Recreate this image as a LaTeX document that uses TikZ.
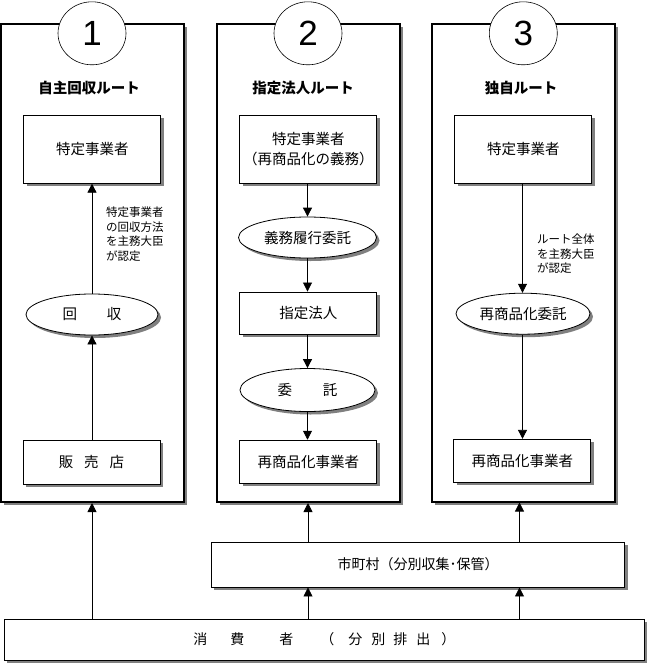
\documentclass[tikz,border=0pt]{standalone}
\usepackage{fontspec}
\setmainfont{Noto Sans CJK JP}
\newfontfamily\digitfont{Liberation Sans}
\usetikzlibrary{shapes.geometric,shadows,arrows.meta}
\begin{document}
\begin{tikzpicture}[x=1pt,y=-1pt,
  shd/.style={drop shadow={shadow xshift=3pt,shadow yshift=-3pt,fill=black!50,opacity=1}},
  panel/.style={draw,line width=2pt,fill=white,shd,inner sep=0pt,minimum width=183pt,minimum height=478pt},
  box/.style={draw,line width=0.9pt,fill=white,shd,inner sep=0pt,align=center,minimum width=137pt,font=\fontsize{14.5}{19.5}\selectfont},
  oval/.style={ellipse,draw,line width=0.8pt,fill=white,shd,inner sep=0pt,minimum height=41pt,font=\fontsize{14.5}{17}\selectfont},
  num/.style={ellipse,draw,line width=0.6pt,fill=white,inner sep=0pt,minimum width=68pt,minimum height=63pt,font=\digitfont\fontsize{35}{35}\selectfont},
  ttl/.style={font=\bfseries\fontsize{14.5}{17}\selectfont,inner sep=0pt},
  note/.style={font=\fontsize{11.5}{14.5}\selectfont,align=left,anchor=north west,inner sep=0pt},
  arr/.style={line width=0.8pt,-{Triangle[length=9pt,width=9pt]}}
]
\useasboundingbox (0,0) rectangle (647,664);
% panels
\node[panel] (p1) at (92.6,263) {};
\node[panel] (p2) at (308.8,263) {};
\node[panel] (p3) at (523.7,262.5) {};
% number circles
\node[num] (n1) at (92,33.3) {1};
\node[num] (n2) at (308,33.3) {2};
\node[num] (n3) at (523.3,33.3) {3};
% titles
\node[ttl] (t1) at (89,88) {自主回収ルート};
\node[ttl] (t2) at (303,88) {指定法人ルート};
\node[ttl] (t3) at (521,88) {独自ルート};
% panel 1
\node[box,minimum height=68pt] (b1) at (92.4,149.2) {特定事業者};
\node[oval,minimum width=132pt] (e1) at (92,314.5) {回\hspace{30pt}収};
\node[box,minimum height=44pt] (b2) at (91.5,462) {販\hspace{11pt}売\hspace{11pt}店};
\node[note] (a1) at (106,207) {特定事業者\\の回収方法\\を主務大臣\\が認定};
% panel 2
\node[box,minimum height=68pt] (b3) at (308.4,149.2) {特定事業者\\（再商品化の義務）};
\node[oval,minimum width=138pt] (e2) at (307.5,237.5) {義務履行委託};
\node[box,minimum height=42pt] (b4) at (308.4,313) {指定法人};
\node[oval,minimum width=135pt,minimum height=43pt] (e3) at (307.5,390) {委\hspace{31pt}託};
\node[box,minimum height=43pt] (b5) at (308.4,461.7) {再商品化事業者};
% panel 3
\node[box,minimum height=68pt] (b6) at (523.3,149.2) {特定事業者};
\node[oval,minimum width=134pt] (e4) at (523,313.7) {再商品化委託};
\node[box,minimum height=43pt] (b7) at (522.3,460.8) {再商品化事業者};
\node[note] (a3) at (537,234) {ルート全体\\を主務大臣\\が認定};
% bottom boxes
\node[box,minimum width=413.5pt,minimum height=45pt,font=\fontsize{14}{17}\selectfont] (muni) at (418,564.5) {市町村（分別収集･保管）};
\node[box,minimum width=640.4pt,minimum height=41pt,font=\fontsize{14}{17}\selectfont] (cons) at (324.3,639.5)
  {消\hspace{23pt}費\hspace{35pt}者\hspace{27pt}（\hspace{14pt}分\hspace{9pt}別\hspace{8pt}排\hspace{9pt}出\hspace{11pt}）};
% axes
\coordinate (ax1) at (92,0);
\coordinate (ax2) at (308,0);
\coordinate (ax3) at (519.5,0);
\coordinate (ay1) at (92,0);
\coordinate (ay2) at (307.5,0);
\coordinate (ay3) at (522.5,0);
% connectors panel 1
\draw[arr] (ay1 |- b2.north) -- (ay1 |- e1.south);
\draw[arr] (ay1 |- e1.north) -- (ay1 |- b1.south);
% connectors panel 2
\draw[arr] (ay2 |- b3.south) -- (ay2 |- e2.north);
\draw[arr] (ay2 |- e2.south) -- (ay2 |- b4.north);
\draw[arr] (ay2 |- b4.south) -- (ay2 |- e3.north);
\draw[arr] (ay2 |- e3.south) -- (ay2 |- b5.north);
% connectors panel 3
\draw[arr] (ay3 |- b6.south) -- (ay3 |- e4.north);
\draw[arr] (ay3 |- e4.south) -- (ay3 |- b7.north);
% connectors bottom
\draw[arr] (ax1 |- cons.north) -- (ax1 |- p1.south);
\draw[arr] (ax2 |- cons.north) -- (ax2 |- muni.south);
\draw[arr] (ax3 |- cons.north) -- (ax3 |- muni.south);
\draw[arr] (ax2 |- muni.north) -- (ax2 |- p2.south);
\draw[arr] (ax3 |- muni.north) -- (ax3 |- p3.south);
\end{tikzpicture}
\end{document}
